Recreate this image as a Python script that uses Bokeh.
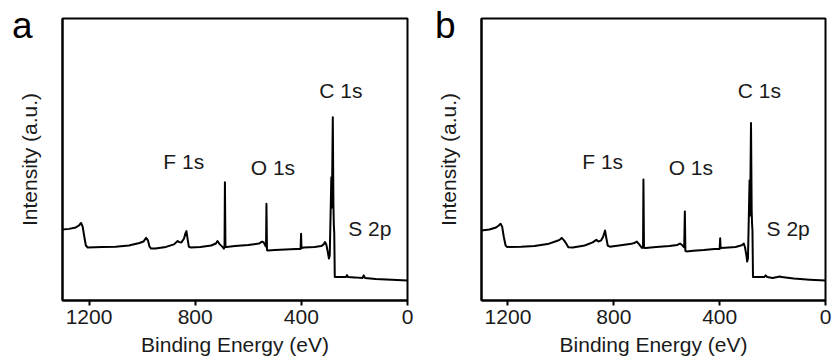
from bokeh.plotting import figure
from bokeh.models import Range1d, FixedTicker, LinearAxis, ColumnDataSource
from bokeh.layouts import row
from bokeh.core.properties import value
from bokeh.embed import file_html
from bokeh.resources import INLINE

# ---------------- data ----------------
EV_A = [1300, 1275, 1250, 1238, 1230, 1224, 1218, 1212, 1205, 1150, 1100, 1050, 1010, 995, 985, 978,
        972, 966, 950, 910, 880, 866, 860, 852, 842, 837, 833, 829, 824, 818, 780, 740, 722, 716,
        708, 698, 692, 689.5, 688, 686, 682, 650, 600, 560, 548, 542, 536, 533, 531.5, 529.5, 526,
        500, 460, 420, 403, 401, 399.5, 390, 350, 325, 316, 311, 306, 300, 296, 293, 287, 285,
        281.5, 279, 277.5, 276, 274, 272, 250, 232, 228, 224, 200, 170, 165, 160, 120, 60, 0]
INT_A = [25.2, 25.4, 25.9, 26.6, 27.5, 26.2, 22.7, 19.5, 18.8, 19.0, 19.1, 19.5, 20.4, 20.9, 22.2, 21.3,
         19.1, 18.4, 18.4, 19.0, 19.9, 21.1, 20.7, 20.6, 22.0, 23.8, 24.6, 22.0, 19.1, 18.8, 19.0, 19.5, 20.2, 21.1,
         20.0, 19.1, 18.4, 18.8, 41.9, 19.0, 19.0, 19.3, 19.7, 20.2, 20.9, 20.6, 19.5, 19.1, 34.3, 17.9, 17.7,
         17.9, 18.1, 18.3, 18.3, 23.7, 18.6, 18.8, 19.0, 19.3, 19.9, 20.7, 19.9, 17.0, 14.9, 16.0, 43.7, 33.0,
         65.0, 33.0, 26.6, 24.0, 8.3, 8.3, 8.3, 8.3, 9.0, 8.3, 8.2, 8.0, 8.9, 8.0, 7.6, 7.4, 7.1]

EV_B = [1300, 1270, 1245, 1235, 1228, 1222, 1216, 1209, 1203, 1150, 1100, 1050, 1016, 1005, 997, 988,
        980, 972, 955, 910, 880, 866, 858, 848, 840, 833, 828, 823, 815, 780, 740, 722, 713, 704,
        694, 689.5, 688, 686, 680, 640, 590, 560, 550, 540, 534, 531.5, 529.5, 525, 500, 460, 420,
        400, 398, 396.5, 380, 340, 320, 315, 309, 304, 299, 296, 293, 287, 285, 281.5, 279, 277.5,
        276, 274, 250, 232, 226, 220, 200, 172, 166, 120, 60, 0]
INT_B = [24.8, 25.2, 25.9, 26.6, 27.2, 26.2, 22.7, 19.5, 19.0, 19.1, 19.3, 20.0, 21.1, 21.5, 22.2, 21.3,
         20.2, 18.9, 18.8, 19.5, 20.6, 21.5, 20.9, 21.3, 22.7, 24.8, 22.0, 19.5, 19.1, 19.5, 20.0, 20.4, 20.9, 19.9,
         18.7, 18.8, 42.9, 18.7, 18.6, 19.0, 19.3, 19.7, 20.2, 19.5, 18.8, 31.6, 17.6, 17.4, 17.6, 17.9, 18.3,
         18.3, 22.1, 18.6, 18.7, 19.0, 19.5, 19.7, 20.2, 18.8, 16.0, 13.8, 14.9, 42.6, 30.1, 62.9, 31.9, 27.2,
         24.8, 8.3, 8.3, 8.3, 8.9, 8.3, 8.0, 8.5, 8.3, 7.8, 7.4, 7.1]

PEAK_NAMES = ["F 1s", "O 1s", "C 1s", "S 2p"]
PEAK_EV_A = [843, 507, 251, 142]
PEAK_EV_B = [842, 509, 250, 141]
PEAK_Y = [49.4, 47.3, 74.5, 25.4]

X_TICKS = [0, 400, 800, 1200]
PANELS = ["a", "b"]

FONT = "Liberation Sans"
TXT = "#1a1a1a"
FS = "21px"
LETTER_Y = 97.4


def make_panel(ev, inten, peak_ev, letter, width, bl, br, letter_standoff):
    p = figure(width=width, height=360, output_backend="svg", toolbar_location=None,
               x_range=Range1d(1300, 0), y_range=Range1d(0, 100),
               min_border_left=bl, min_border_right=br, min_border_top=18, min_border_bottom=60)
    p.grid.visible = False
    p.background_fill_color = "white"
    p.border_fill_color = "white"
    p.outline_line_color = "black"
    p.outline_line_width = 2

    p.line(ev, inten, line_color="black", line_width=2, line_join="round")

    src = ColumnDataSource(dict(x=peak_ev, y=PEAK_Y, t=PEAK_NAMES))
    p.text(x="x", y="y", text="t", source=src, text_align="center", text_baseline="middle",
           text_font=value(FONT), text_font_size=FS, text_color=TXT)

    xa = p.xaxis[0]
    xa.ticker = FixedTicker(ticks=X_TICKS)
    xa.axis_label = "Binding Energy (eV)"
    xa.axis_label_text_font = FONT
    xa.axis_label_text_font_style = "normal"
    xa.axis_label_text_font_size = FS
    xa.axis_label_text_color = TXT
    xa.axis_label_standoff = 6
    xa.major_label_text_font = FONT
    xa.major_label_text_font_size = FS
    xa.major_label_text_color = TXT
    xa.major_label_standoff = 4
    xa.major_tick_in = 0
    xa.major_tick_out = 5
    xa.major_tick_line_width = 2
    xa.minor_tick_line_color = None
    xa.axis_line_width = 2

    ya = p.yaxis[0]
    ya.ticker = FixedTicker(ticks=[])
    ya.axis_label = "Intensity (a.u.)"
    ya.axis_label_text_font = FONT
    ya.axis_label_text_font_style = "normal"
    ya.axis_label_text_font_size = FS
    ya.axis_label_text_color = TXT
    ya.axis_label_standoff = 22
    ya.major_tick_in = 0
    ya.major_tick_out = 0
    ya.major_tick_line_color = None
    ya.minor_tick_line_color = None
    ya.axis_line_width = 2

    # panel letter, carried by an extra (invisible) left axis
    la = LinearAxis(ticker=FixedTicker(ticks=[LETTER_Y]),
                    major_label_overrides={LETTER_Y: letter})
    la.axis_line_color = None
    la.major_tick_line_color = None
    la.minor_tick_line_color = None
    la.major_tick_in = 0
    la.major_tick_out = 0
    la.major_label_standoff = letter_standoff
    la.major_label_text_font = FONT
    la.major_label_text_font_size = "37px"
    la.major_label_text_color = "black"
    p.add_layout(la, "left")
    return p


pa = make_panel(EV_A, INT_A, PEAK_EV_A, PANELS[0], 416, 62, 9, -18)
pb = make_panel(EV_B, INT_B, PEAK_EV_B, PANELS[1], 416, 65, 7, -22)

layout = row(pa, pb)
open("out.html", "w").write(file_html(layout, INLINE))
